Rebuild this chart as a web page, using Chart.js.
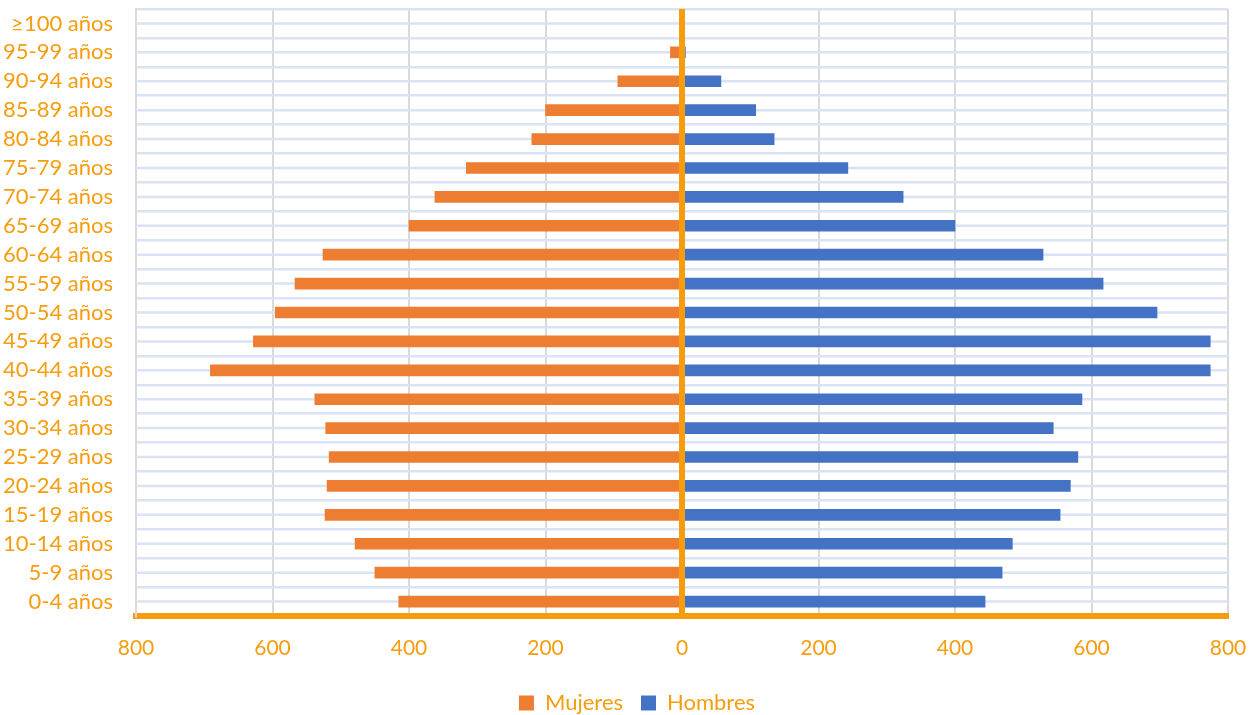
<!DOCTYPE html>
<html>
<head>
<meta charset="utf-8">
<script src="https://cdn.jsdelivr.net/npm/chart.js@4/dist/chart.umd.min.js"></script>
<style>
  html, body { margin: 0; padding: 0; background: #fff; }
  #wrap { width: 1257px; height: 715px; }
</style>
</head>
<body>
<div id="wrap"><canvas id="pyramid" width="1257" height="715"></canvas></div>
<script>
// Grupos de edad (de arriba a abajo)
const grupos = ['≥100 años', '95-99 años', '90-94 años', '85-89 años', '80-84 años',
    '75-79 años', '70-74 años', '65-69 años', '60-64 años', '55-59 años', '50-54 años',
    '45-49 años', '40-44 años', '35-39 años', '30-34 años', '25-29 años', '20-24 años',
    '15-19 años', '10-14 años', '5-9 años', '0-4 años'];

// Valores
const mujeres = [0, 17, 94, 200, 220, 316, 362, 400, 526, 567, 596, 628, 691,
    538, 522, 517, 520, 523, 479, 450, 415];
const hombres = [0, 5, 57, 108, 135, 243, 324, 400, 529, 617, 696, 774, 774,
    586, 544, 580, 569, 554, 484, 469, 444];

const naranja = '#f59d0e';

// Líneas horizontales en el centro de cada categoría + línea del cero encima
const lineasPlugin = {
    id: 'lineas',
    afterLayout(chart) {
        // la leyenda del original no está centrada en el lienzo
        chart.legend.left += 23;
        chart.legend.right += 23;
    },
    beforeDatasetsDraw(chart) {
        const { ctx, chartArea, scales } = chart;
        ctx.save();
        ctx.strokeStyle = '#dae3f3';
        ctx.lineWidth = 2.5;
        grupos.forEach((g, i) => {
            const y = scales.y.getPixelForValue(i);
            ctx.beginPath();
            ctx.moveTo(chartArea.left, y);
            ctx.lineTo(chartArea.right, y);
            ctx.stroke();
        });
        ctx.restore();
    },
    afterDatasetsDraw(chart) {
        const { ctx, chartArea, scales } = chart;
        const x0 = scales.x.getPixelForValue(0);
        ctx.save();
        ctx.strokeStyle = naranja;
        ctx.lineWidth = 6;
        ctx.beginPath();
        ctx.moveTo(x0, chartArea.top);
        ctx.lineTo(x0, chartArea.bottom);
        ctx.stroke();
        ctx.restore();
    }
};

const ctx = document.getElementById('pyramid').getContext('2d');
new Chart(ctx, {
    type: 'bar',
    data: {
        labels: grupos,
        datasets: [{
            label: 'Mujeres',
            data: mujeres.map(v => -v),
            backgroundColor: '#ed7d31',
            borderWidth: 0,
            barThickness: 11
        }, {
            label: 'Hombres',
            data: hombres,
            backgroundColor: '#4472c4',
            borderWidth: 0,
            barThickness: 11
        }]
    },
    plugins: [lineasPlugin],
    options: {
        indexAxis: 'y',
        responsive: false,
        animation: false,
        devicePixelRatio: 1,
        layout: { padding: { top: 9, right: 29, left: 0, bottom: -9 } },
        plugins: {
            tooltip: { enabled: false },
            legend: {
                position: 'bottom',
                labels: {
                    color: naranja,
                    font: { family: 'Lato', size: 22 },
                    boxWidth: 15,
                    boxHeight: 15,
                    padding: 18
                }
            }
        },
        scales: {
            x: {
                min: -800,
                max: 800,
                stacked: true,
                ticks: {
                    stepSize: 200,
                    color: naranja,
                    font: { family: 'Lato', size: 21 },
                    padding: 20,
                    callback: v => Math.abs(v)
                },
                grid: { color: '#d9d9d9', lineWidth: 2, drawTicks: false },
                border: { color: naranja, width: 6 },
                afterFit: s => { s.height = 58; s.paddingLeft = 0; s.paddingRight = 0; }
            },
            y: {
                stacked: true,
                ticks: {
                    color: naranja,
                    font: { family: 'Lato', size: 22 },
                    padding: 23,
                    autoSkip: false
                },
                grid: { color: '#dae3f3', lineWidth: 2.5, offset: true, drawTicks: false },
                border: { color: '#d9d9d9', width: 2 },
                afterFit: s => { s.width = 136; s.paddingTop = 0; s.paddingBottom = 0; }
            }
        }
    }
});
</script>
</body>
</html>
